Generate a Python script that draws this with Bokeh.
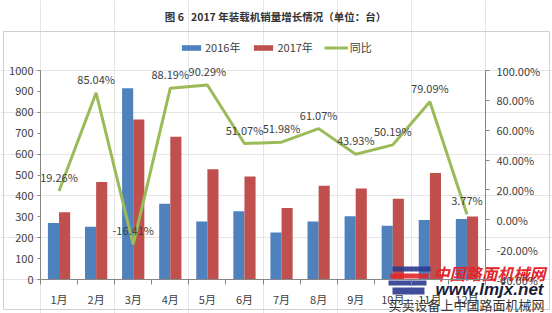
from bokeh.plotting import figure
from bokeh.models import (Range1d, LinearAxis, FixedTicker, NumeralTickFormatter,
                          Legend, LegendItem, ColumnDataSource)
from bokeh.core.properties import value
from bokeh.embed import file_html
from bokeh.resources import INLINE
import numpy as np

months = ["1月", "2月", "3月", "4月", "5月", "6月", "7月", "8月", "9月", "10月", "11月", "12月"]
sales_2016 = [270, 252, 915, 363, 277, 326, 225, 278, 303, 257, 285, 290]
sales_2017 = [322, 467, 765, 683, 527, 493, 342, 448, 436, 386, 510, 301]
yoy_pct = [19.26, 85.04, -16.41, 88.19, 90.29, 51.07, 51.98, 61.07, 43.93, 50.19, 79.09, 3.77]
left_ticks = [0, 100, 200, 300, 400, 500, 600, 700, 800, 900, 1000]
right_ticks = [-0.4, -0.2, 0.0, 0.2, 0.4, 0.6, 0.8, 1.0]
title_text = "图\u00a06\u00a0\u00a0\u00a02017 年装载机销量增长情况（单位：台）"

FONT = "Noto Sans CJK SC"
BLUE = "#4F81BD"
RED = "#C0504D"
GREEN = "#9BBB59"
TXT = "#404040"
AX = "#868686"

W, H = 552, 313
# plot area inside the canvas (pixels)
PL, PR, PT, PB = 40, 485, 70, 279
n = len(months)
ymax = 1000
pmin, pmax = -0.4, 1.0

xs = (PR - PL) / n
ys = (PB - PT) / ymax
ps = (PB - PT) / (pmax - pmin)

idx = np.arange(n)
centers = idx + 0.5
src = ColumnDataSource(dict(
    xc=centers, x16=centers - 0.15, x17=centers + 0.15,
    s16=sales_2016, s17=sales_2017,
    yoy=[v / 100 for v in yoy_pct],
    lbl=[f"{v:.2f}%" for v in yoy_pct],
))

p = figure(width=W, height=H, output_backend="svg", toolbar_location=None,
           x_range=Range1d(-PL / xs, n + (W - PR) / xs),
           y_range=Range1d(-(H - PB) / ys, ymax + PT / ys),
           min_border=0, x_axis_location=None, y_axis_location=None, title_location=None,
           background_fill_color="white", border_fill_color="white")
p.outline_line_color = None
p.extra_y_ranges = {"pct": Range1d(pmin - (H - PB) / ps, pmax + PT / ps),
                    "py": Range1d(H, 0)}
p.extra_x_ranges = {"px": Range1d(0, W)}

# chart box
p.quad(left=[3], right=[549], top=[31], bottom=[309], x_range_name="px", y_range_name="py",
       fill_alpha=0, line_color="#D0D0D0", line_width=1)

r16 = p.vbar(x="x16", top="s16", width=0.3, source=src, fill_color=BLUE, line_color=None)
r17 = p.vbar(x="x17", top="s17", width=0.3, source=src, fill_color=RED, line_color=None)
rl = p.line(x="xc", y="yoy", source=src, y_range_name="pct", line_color=GREEN, line_width=3)
p.text(x="xc", y="yoy", text="lbl", source=src, y_range_name="pct", y_offset=-14,
       text_align="center", text_baseline="middle", text_font=value(FONT),
       text_font_size="11px", text_color=TXT)

# axes fixed at the plot-area edges
xa = LinearAxis(fixed_location=0, bounds=(0, n),
                ticker=FixedTicker(ticks=list(centers), minor_ticks=list(range(n + 1))),
                major_label_overrides={float(c): m for c, m in zip(centers, months)})
xa.major_tick_line_color = None
xa.major_tick_in = 0
xa.major_tick_out = 0
xa.minor_tick_in = 0
xa.minor_tick_out = 5
xa.minor_tick_line_color = AX
xa.axis_line_color = AX
xa.major_label_text_font = FONT
xa.major_label_text_font_size = "11px"
xa.major_label_text_color = TXT
xa.major_label_standoff = 6
p.add_layout(xa, "below")

ya = LinearAxis(fixed_location=0, bounds=(0, ymax), ticker=FixedTicker(ticks=left_ticks))
ya.minor_tick_line_color = None
ya.major_tick_in = 0
ya.major_tick_out = 3
ya.major_tick_line_color = AX
ya.axis_line_color = AX
ya.major_label_text_font = FONT
ya.major_label_text_font_size = "11px"
ya.major_label_text_color = TXT
ya.major_label_standoff = 4
p.add_layout(ya, "left")

ra = LinearAxis(y_range_name="pct", fixed_location=n, bounds=(pmin, pmax),
                ticker=FixedTicker(ticks=right_ticks),
                formatter=NumeralTickFormatter(format="0.00%"))
ra.minor_tick_line_color = None
ra.major_tick_in = 0
ra.major_tick_out = 4
ra.major_tick_line_color = AX
ra.axis_line_color = AX
ra.major_label_text_font = FONT
ra.major_label_text_font_size = "11px"
ra.major_label_text_color = TXT
ra.major_label_standoff = 7
p.add_layout(ra, "right")

legend = Legend(items=[LegendItem(label="2016年", renderers=[r16]),
                       LegendItem(label="2017年", renderers=[r17]),
                       LegendItem(label="同比", renderers=[rl])],
                orientation="horizontal", location=(179, H - 41 - 14),
                glyph_width=24, glyph_height=7, label_standoff=2, spacing=11,
                padding=0, margin=0, border_line_color=None, background_fill_alpha=0,
                label_text_font=FONT, label_text_font_size="11px", label_text_color=TXT,
                label_height=14)
p.add_layout(legend, "center")

# title
p.text(x=[275], y=[16], text=[title_text], x_range_name="px", y_range_name="py",
       text_align="center", text_baseline="middle",
       text_font=value(FONT), text_font_size="10.5px", text_font_style="bold",
       text_color="#333333")

# watermark
p.quad(left=[392, 390, 388, 392], right=[430, 428, 426, 424],
       top=[266, 273, 280, 287], bottom=[271, 278, 285, 294],
       x_range_name="px", y_range_name="py",
       fill_color=["#2B3A8F", "#E3262B", "#2B3A8F", "#2B3A8F"], line_color=None, fill_alpha=0.9)
p.text(x=[489], y=[272], text=["中国路面机械网"], x_range_name="px", y_range_name="py",
       text_align="center", text_baseline="middle",
       text_font=value(FONT), text_font_size="16px", text_font_style="bold italic",
       text_color="#E3262B")
p.text(x=[489], y=[289], text=["www.lmjx.net"], x_range_name="px", y_range_name="py",
       text_align="center", text_baseline="middle", text_font=value("Liberation Sans"),
       text_font_size="17px", text_font_style="bold italic", text_color="#1C1C3A")
p.text(x=[466], y=[304], text=["买卖设备上中国路面机械网"], x_range_name="px", y_range_name="py",
       text_align="center", text_baseline="middle", text_font=value(FONT),
       text_font_size="13px", text_color="#333333")

open("out.html", "w").write(file_html(p, INLINE))
